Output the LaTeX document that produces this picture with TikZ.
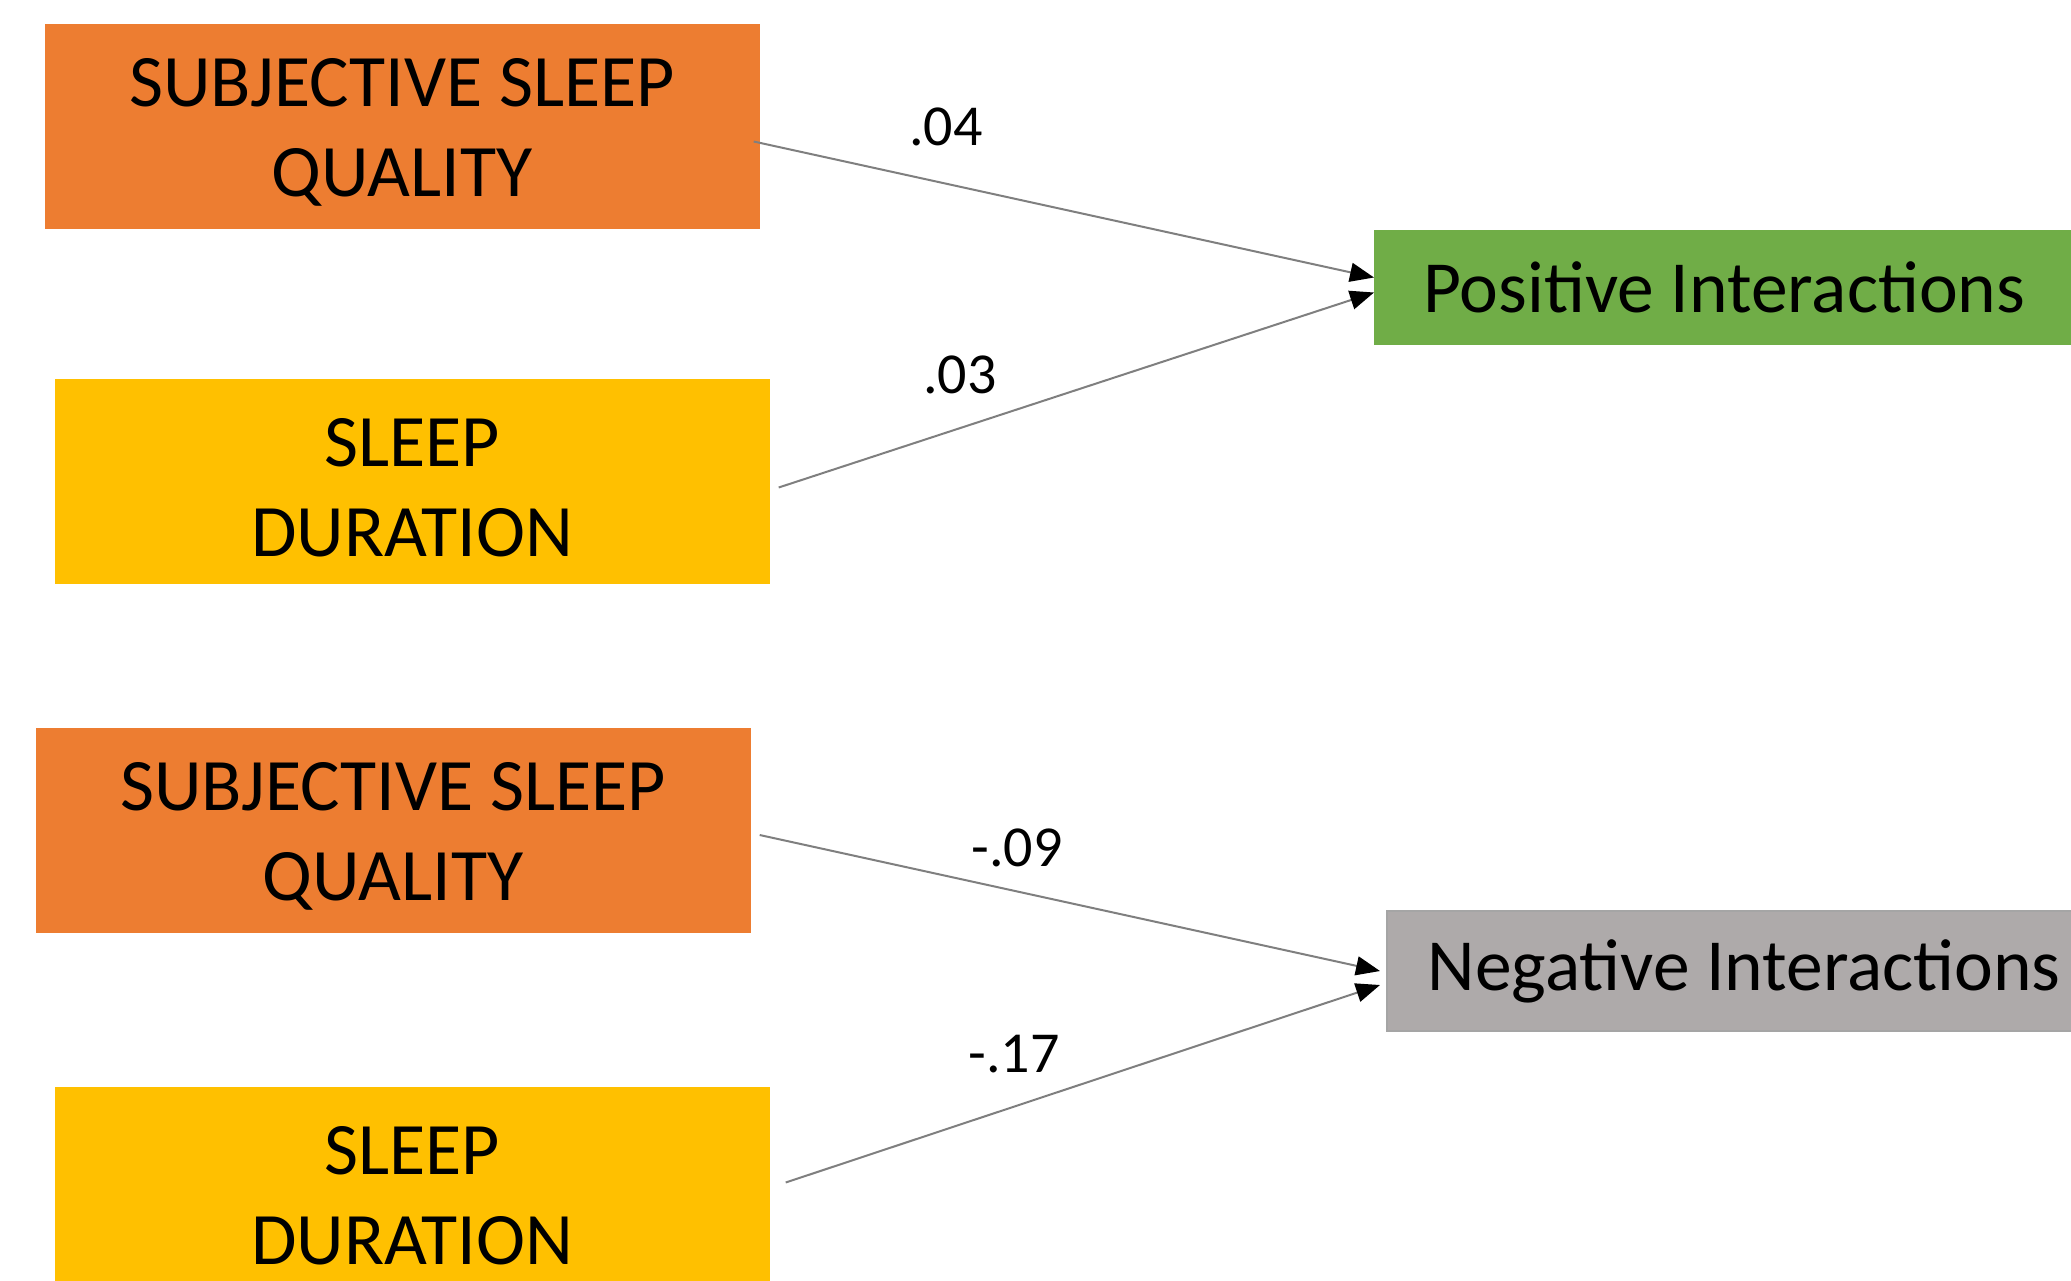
\documentclass[tikz,border=0pt]{standalone}
\usepackage{fontspec}
\setmainfont{Carlito}
\usetikzlibrary{arrows.meta}
\definecolor{SQOrange}{HTML}{ED7D31}
\definecolor{SQYellow}{HTML}{FFC000}
\definecolor{SQGreen}{HTML}{70AD47}
\definecolor{SQGray}{HTML}{AEAAAA}
\definecolor{SQGrayEdge}{HTML}{A5A5A5}
\definecolor{SQLine}{HTML}{7F7F7F}
\newcommand{\toprow}{\rule{0pt}{60pt}}
\tikzset{
  flow/.style={-{Triangle[length=24pt,width=19pt,color=black]},SQLine,line width=2pt},
  box/.style={minimum width=715pt,minimum height=205pt,inner sep=0pt,align=center,
              text=black,font=\fontsize{74}{90}\selectfont},
  boxorange/.style={box,fill=SQOrange},
  boxyellow/.style={box,fill=SQYellow},
  outcome/.style={anchor=west,inner sep=0pt,text=black,font=\fontsize{73.5}{86}\selectfont},
  outgreen/.style={outcome,fill=SQGreen,minimum width=700pt,minimum height=115pt},
  outgray/.style={outcome,fill=SQGray,draw=SQGrayEdge,line width=2pt,minimum width=714pt,minimum height=120pt},
  coef/.style={text=black,inner sep=0pt,font=\fontsize{58}{60}\selectfont},
}
\begin{document}
\begin{tikzpicture}[x=1pt,y=-1pt]
    \useasboundingbox (0,0) rectangle (2071,1280);

    % predictors on the left
    \node[boxorange] (qualtop) at (402,126.5)  {\toprow SUBJECTIVE SLEEP\\QUALITY};
    \node[boxyellow] (durtop)  at (412,481.5)  {\toprow SLEEP\\DURATION};
    \node[boxorange] (qualbot) at (393,830)    {\toprow SUBJECTIVE SLEEP\\QUALITY};
    \node[boxyellow] (durbot)  at (412,1189.5) {\toprow SLEEP\\DURATION};

    % outcomes on the right
    \node[outgreen] (pos) at (1374,287.5) {Positive Interactions};
    \node[outgray]  (neg) at (1386,971)   {Negative Interactions};

    \draw[flow] ([xshift=-6pt,yshift=-15pt]qualtop.east) -- ([yshift=10pt]pos.west);
    \draw[flow] ([xshift=9pt,yshift=-6pt]durtop.east)   -- ([yshift=-5pt]pos.west);
    \draw[flow] ([xshift=9pt,yshift=-5pt]qualbot.east)  -- ([xshift=-6pt]neg.west);
    \draw[flow] ([xshift=16pt,yshift=7pt]durbot.east)   -- ([xshift=-6pt,yshift=-14pt]neg.west);

    \node[coef] (c1) at (946,127)   {.04};
    \node[coef] (c2) at (960,375)   {.03};
    \node[coef] (c3) at (1017,848)  {-.09};
    \node[coef] (c4) at (1014,1054) {-.17};
  \end{tikzpicture}
\end{document}
